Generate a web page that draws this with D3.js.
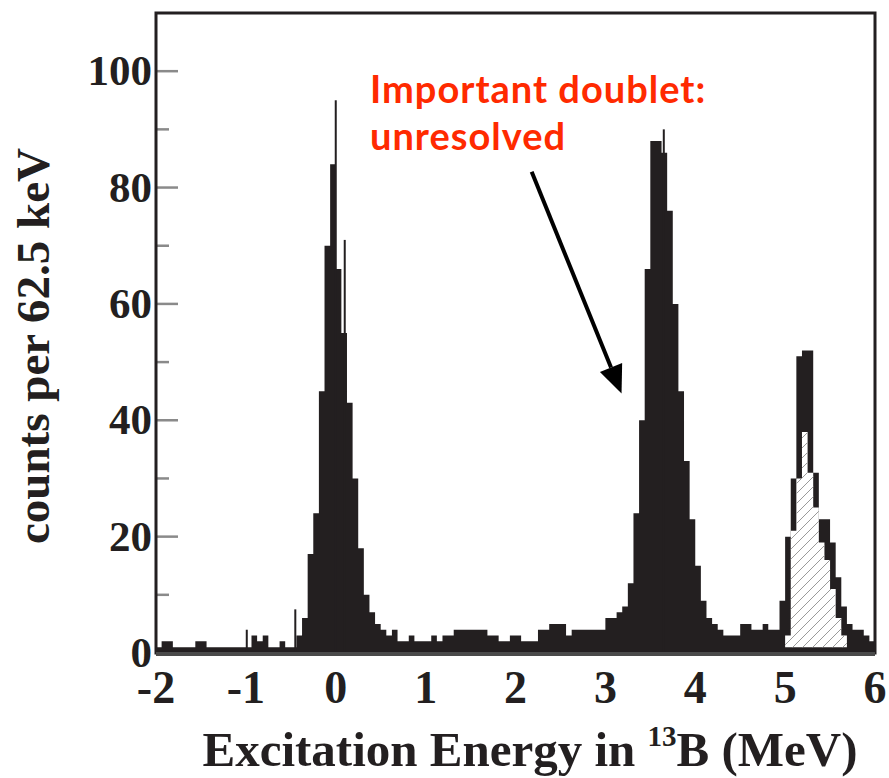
<!DOCTYPE html>
<html>
<head>
<meta charset="utf-8">
<script src="https://cdn.jsdelivr.net/npm/d3@7"></script>
<style>
  body { margin: 0; background: #fff; }
</style>
</head>
<body>
<div id="chart"></div>
<script>
// histogram: counts per 62.5 keV bin, starting at -2 MeV
const binStart = -2, binWidth = 0.0625;
const counts = [
  1,2,2,1,1,1,1,2,2,1,1,1,1,1,1,1,1,3,2,3,1,1,2,1,
  1,3,6,17,24,45,70,84,66,55,43,30,18,10,7,5,4,3,4,2,
  2,3,2,2,2,3,2,3,3,4,4,4,4,4,4,3,3,2,2,3,
  3,2,2,2,4,4,5,5,5,3,4,4,4,4,4,4,6,6,7,8,
  12,24,40,66,88,88,86,76,60,45,33,23,15,9,6,5,4,3,3,3,
  5,5,4,4,5,4,4,9,20,30,51,52,52,31,23,23,19,13,8,5,4,4,3,2
];

// hatched component under the 5.x MeV peak
const doubletStart = 5.0;
const doubletBase = 1;
const doubletCounts = [3,21,30,38,31,25,19,16,11,6,3,1];

// single narrow channels sticking out of the histogram
const spikeE = [-0.99, -0.45, 0.0, 0.10, 3.65];
const spikeV = [4, 7.5, 95, 71, 90];

const xTicks = [-2, -1, 0, 1, 2, 3, 4, 5, 6];
const yTicks = [0, 20, 40, 60, 80, 100];
const yMinor = [10, 30, 50, 70, 90];

// annotation arrow, in data units
const arrowFrom = [2.18, 82.7];
const arrowTo = [3.18, 44.6];

const W = 889, H = 778;
const plot = {left: 156, right: 875, top: 13, bottom: 653};
const ink = "#231f20";
const serif = "'Liberation Serif', 'Times New Roman', serif";

const svg = d3.select("#chart")
  .append("svg")
    .attr("width", W)
    .attr("height", H);

const x = d3.scaleLinear().domain([-2, 6]).range([plot.left, plot.right]);
const y = d3.scaleLinear().domain([0, 110]).range([plot.bottom, plot.top]);

// hatch pattern for the component
const defs = svg.append("defs");
const pat = defs.append("pattern")
  .attr("id", "hatch")
  .attr("patternUnits", "userSpaceOnUse")
  .attr("width", 10)
  .attr("height", 10);
pat.append("path")
  .attr("d", "M-2,2 L2,-2 M0,10 L10,0 M8,12 L12,8")
  .attr("stroke", "#9a9a9a")
  .attr("stroke-width", 1);

// y ticks (drawn first so the histogram covers them)
svg.selectAll(".ymajor")
  .data(yTicks.slice(1))
  .join("line")
    .attr("x1", plot.left)
    .attr("x2", plot.left + 22)
    .attr("y1", d => y(d))
    .attr("y2", d => y(d))
    .attr("stroke", "#8a8a8a")
    .attr("stroke-width", 2.5);
svg.selectAll(".yminor")
  .data(yMinor)
  .join("line")
    .attr("x1", plot.left)
    .attr("x2", plot.left + 13)
    .attr("y1", d => y(d))
    .attr("y2", d => y(d))
    .attr("stroke", "#8a8a8a")
    .attr("stroke-width", 2.5);

// total histogram
const pts = counts.map((c, i) => [binStart + i * binWidth, c]);
pts.push([binStart + counts.length * binWidth, counts[counts.length - 1]]);

const area = d3.area()
  .x(d => x(d[0]))
  .y0(y(0))
  .y1(d => y(d[1]))
  .curve(d3.curveStepAfter);

svg.append("path")
  .datum(pts)
  .attr("d", area)
  .attr("fill", ink);

// hatched component
const cpts = doubletCounts.map((c, i) => [doubletStart + i * binWidth, c]);
cpts.push([doubletStart + doubletCounts.length * binWidth, 0]);
const carea = d3.area()
  .x(d => x(d[0]))
  .y0(y(doubletBase))
  .y1(d => y(Math.max(doubletBase, d[1])))
  .curve(d3.curveStepAfter);
svg.append("path").datum(cpts).attr("d", carea).attr("fill", "#fff");
svg.append("path").datum(cpts).attr("d", carea).attr("fill", "url(#hatch)");

// narrow spikes
svg.selectAll(".spike")
  .data(spikeE.map((e, i) => [e, spikeV[i]]))
  .join("rect")
    .attr("x", d => x(d[0]) - 1)
    .attr("width", 2)
    .attr("y", d => y(d[1]))
    .attr("height", d => y(0) - y(d[1]))
    .attr("fill", ink);

// frame
svg.append("rect")
  .attr("x", plot.left)
  .attr("y", plot.top)
  .attr("width", plot.right - plot.left)
  .attr("height", plot.bottom - plot.top)
  .attr("fill", "none")
  .attr("stroke", ink)
  .attr("stroke-width", 3);
svg.append("line")
  .attr("x1", plot.left)
  .attr("x2", plot.right)
  .attr("y1", y(0) + 1)
  .attr("y2", y(0) + 1)
  .attr("stroke", "#4a4a4a")
  .attr("stroke-width", 4);

// tick labels
svg.selectAll(".ylab")
  .data(yTicks)
  .join("text")
    .attr("x", plot.left - 4)
    .attr("y", d => y(d) + 14)
    .attr("text-anchor", "end")
    .style("font-family", serif)
    .style("font-weight", "bold")
    .style("font-size", "43px")
    .style("fill", ink)
    .text(d => d);

svg.selectAll(".xlab")
  .data(xTicks)
  .join("text")
    .attr("x", d => x(d))
    .attr("y", 703)
    .attr("text-anchor", "middle")
    .style("font-family", serif)
    .style("font-weight", "bold")
    .style("font-size", "46px")
    .style("fill", ink)
    .text(d => d);

// axis titles
const xt = svg.append("text")
  .attr("x", 530)
  .attr("y", 766)
  .attr("text-anchor", "middle")
  .style("font-family", serif)
  .style("font-weight", "bold")
  .style("font-size", "49px")
  .style("fill", ink);
xt.append("tspan").text("Excitation Energy in ");
xt.append("tspan").attr("dy", -20).style("font-size", "29px").text("13");
xt.append("tspan").attr("dy", 20).text("B (MeV)");

svg.append("text")
  .attr("transform", "translate(49,346) rotate(-90)")
  .attr("text-anchor", "middle")
  .style("font-family", serif)
  .style("font-weight", "bold")
  .style("font-size", "47px")
  .style("fill", ink)
  .text("counts per 62.5 keV");

// annotation
const note = ["Important doublet:", "unresolved"];
svg.selectAll(".note")
  .data(note)
  .join("text")
    .attr("x", 370)
    .attr("y", (d, i) => 103 + i * 47)
    .style("font-family", "Lato, 'Open Sans', sans-serif")
    .style("font-weight", "bold")
    .style("font-size", "38px")
    .style("letter-spacing", "1px")
    .style("fill", "#ff2a00")
    .text(d => d);

const x0 = x(arrowFrom[0]), y0 = y(arrowFrom[1]);
const x1 = x(arrowTo[0]), y1 = y(arrowTo[1]);
const ang = Math.atan2(y1 - y0, x1 - x0);
const headLen = 28, headHalf = 12;
const bx = x1 - headLen * Math.cos(ang), by = y1 - headLen * Math.sin(ang);
svg.append("line")
  .attr("x1", x0).attr("y1", y0)
  .attr("x2", bx).attr("y2", by)
  .attr("stroke", "#000")
  .attr("stroke-width", 4);
svg.append("path")
  .attr("d", `M${x1},${y1} L${bx - headHalf * Math.sin(ang)},${by + headHalf * Math.cos(ang)} L${bx + headHalf * Math.sin(ang)},${by - headHalf * Math.cos(ang)} Z`)
  .attr("fill", "#000");
</script>
</body>
</html>
